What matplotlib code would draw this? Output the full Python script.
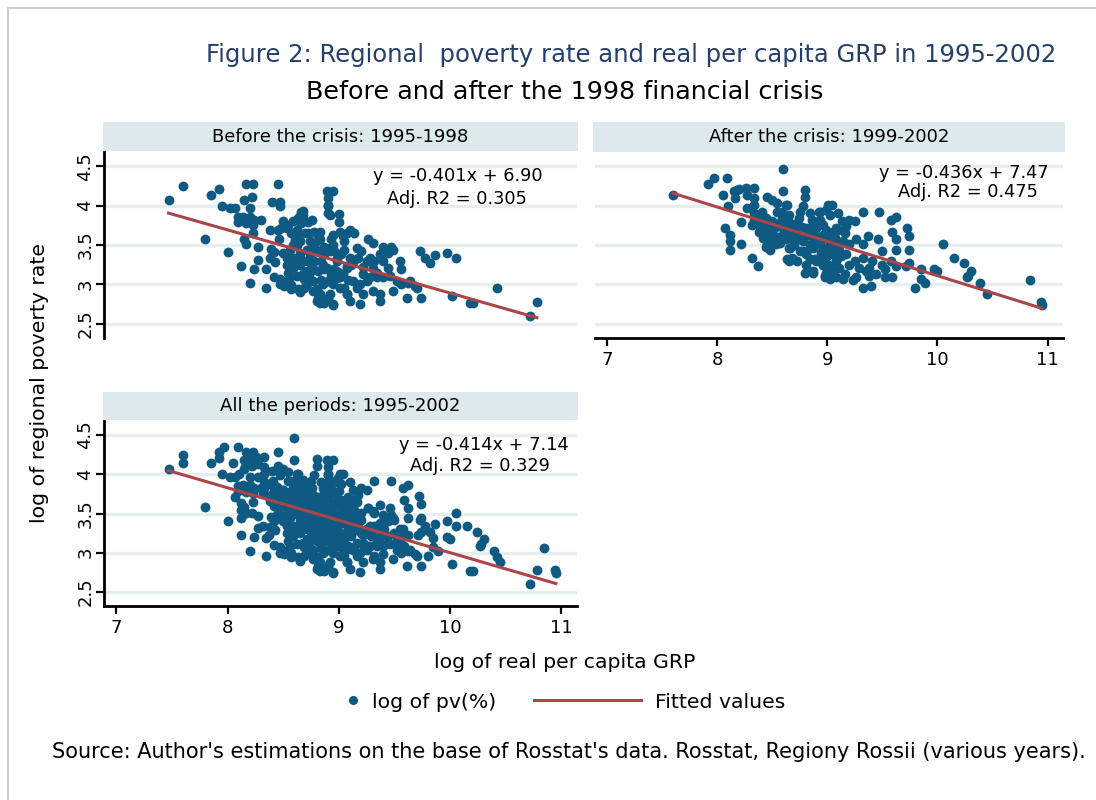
"""Regional poverty rate vs real per capita GRP, 1995-2002 (three-panel scatter)."""
import matplotlib
matplotlib.use("Agg")
import matplotlib.pyplot as plt  # noqa: E402
from matplotlib.lines import Line2D  # noqa: E402
from matplotlib.patches import Rectangle  # noqa: E402
import numpy as np  # noqa: E402

# --- data -----------------------------------------------------------------
before_x = [
    7.47, 7.60, 7.85, 7.92, 7.95, 8.02, 8.07, 7.80, 8.00, 8.12,
    8.20, 8.35, 8.17, 8.23, 8.45, 8.22, 8.15, 8.20, 8.40, 8.47,
    8.47, 8.09, 8.14, 8.20, 8.24, 8.30, 8.09, 8.17, 8.23, 8.23,
    8.15, 8.17, 8.27, 8.27, 8.24, 8.35, 8.42, 8.38, 8.45, 8.48,
    8.39, 8.42, 8.38, 8.43, 8.50, 8.54, 8.47, 8.54, 8.51, 8.47,
    8.57, 8.63, 8.65, 8.69, 8.81, 8.85, 8.83, 8.95, 8.89, 8.95,
    8.90, 8.90, 8.90, 9.00, 9.00, 8.66, 8.68, 8.65, 8.62, 8.72,
    8.76, 8.63, 8.70, 8.61, 8.83, 8.83, 8.95, 9.01, 9.07, 8.68,
    8.63, 8.66, 8.59, 8.53, 8.62, 8.57, 8.72, 8.78, 8.81, 8.74,
    8.65, 8.59, 8.56, 8.50, 8.53, 8.59, 8.65, 8.71, 8.77, 8.81,
    8.87, 8.87, 8.84, 8.78, 8.71, 8.65, 8.59, 8.54, 8.62, 8.68,
    8.75, 8.81, 8.87, 8.77, 8.71, 8.57, 8.80, 8.86, 8.90, 8.83,
    8.90, 8.80, 8.87, 8.90, 8.92, 9.04, 9.05, 9.05, 9.10, 9.14,
    8.92, 8.96, 9.16, 9.20, 9.17, 9.10, 9.11, 9.07, 9.31, 9.40,
    9.47, 9.37, 9.44, 9.49, 9.55, 9.56, 9.28, 9.32, 9.31, 9.22,
    9.28, 9.34, 9.40, 9.46, 9.52, 9.56, 9.62, 9.68, 9.61, 9.74,
    9.37, 8.95, 9.01, 9.07, 9.16, 9.22, 9.31, 9.37, 9.73, 9.77,
    9.82, 9.86, 9.97, 10.05, 8.98, 9.04, 8.98, 9.13, 9.19, 9.10,
    9.19, 9.25, 9.49, 9.26, 9.40, 9.44, 9.25, 10.42, 10.02, 10.18,
    10.21, 10.72, 10.78, 9.70, 9.64, 8.77, 8.92, 8.95, 9.01, 8.89,
    8.98, 9.07, 9.05, 9.07, 8.71, 8.65, 8.53, 8.80, 8.95, 8.92,
    8.74, 8.86, 8.93, 8.69, 8.84, 8.96, 9.02, 8.58, 8.76, 8.99,
    8.62, 8.79, 8.93, 9.13, 9.22, 9.34, 8.46, 8.56, 8.73, 9.08,
]
before_y = [
    4.07, 4.25, 4.14, 4.21, 4.00, 3.97, 3.97, 3.58, 3.41, 3.23,
    3.02, 2.96, 4.28, 4.28, 4.28, 4.11, 4.07, 3.97, 4.04, 4.04,
    3.99, 3.85, 3.86, 3.86, 3.82, 3.82, 3.79, 3.78, 3.76, 3.65,
    3.58, 3.51, 3.47, 3.31, 3.20, 3.19, 3.10, 3.69, 3.69, 3.71,
    3.45, 3.41, 3.33, 3.29, 3.80, 3.76, 3.07, 3.04, 2.98, 3.00,
    2.99, 2.94, 2.90, 2.96, 2.83, 2.81, 2.77, 2.74, 4.18, 4.18,
    4.09, 4.01, 3.90, 3.89, 3.79, 3.92, 3.93, 3.87, 3.82, 3.79,
    3.82, 3.65, 3.65, 3.56, 3.67, 3.57, 3.63, 3.67, 3.65, 3.88,
    3.84, 3.78, 3.80, 3.71, 3.69, 3.65, 3.65, 3.67, 3.63, 3.55,
    3.55, 3.50, 3.44, 3.40, 3.34, 3.34, 3.40, 3.44, 3.46, 3.42,
    3.48, 3.38, 3.30, 3.30, 3.30, 3.25, 3.21, 3.15, 3.11, 3.13,
    3.17, 3.17, 3.19, 3.04, 3.00, 2.94, 2.94, 3.00, 3.04, 2.88,
    2.83, 2.79, 2.77, 3.99, 3.88, 3.61, 3.55, 3.44, 3.69, 3.65,
    3.46, 3.42, 3.46, 3.42, 3.34, 3.34, 3.25, 3.21, 3.53, 3.48,
    3.48, 3.38, 3.40, 3.44, 3.30, 3.19, 3.34, 3.30, 3.21, 3.13,
    3.09, 3.09, 3.09, 3.11, 3.04, 3.00, 3.02, 2.98, 2.83, 2.83,
    2.79, 2.75, 2.96, 2.88, 2.96, 2.88, 2.92, 2.88, 3.42, 3.34,
    3.27, 3.37, 3.40, 3.34, 3.30, 3.13, 3.08, 3.04, 3.00, 2.79,
    2.75, 3.04, 2.92, 3.57, 3.30, 3.21, 3.30, 2.95, 2.85, 2.77,
    2.77, 2.60, 2.78, 2.96, 3.04, 2.92, 2.88, 3.00, 3.09, 3.21,
    3.34, 3.23, 2.96, 2.88, 3.17, 3.34, 3.25, 3.42, 3.50, 3.42,
    3.36, 3.24, 3.12, 3.07, 3.06, 3.20, 3.38, 3.27, 3.23, 3.16,
    3.50, 3.52, 3.58, 3.28, 3.22, 3.15, 3.58, 3.09, 3.09, 3.05,
]

after_x = [
    7.60, 7.92, 7.97, 8.09, 8.05, 8.10, 8.16, 8.18, 8.20, 8.22,
    8.07, 8.12, 8.12, 8.12, 8.22, 8.32, 8.37, 8.26, 8.33, 8.27,
    8.33, 8.33, 8.27, 8.33, 8.33, 8.32, 8.60, 8.60, 8.45, 8.50,
    8.54, 8.41, 8.42, 8.43, 8.42, 8.45, 8.48, 8.62, 8.59, 8.63,
    8.66, 8.69, 8.63, 8.68, 8.80, 8.80, 8.78, 8.84, 8.86, 8.81,
    8.86, 8.78, 8.75, 8.81, 8.87, 8.93, 8.87, 8.98, 8.99, 8.93,
    9.01, 9.02, 9.10, 8.96, 9.05, 9.10, 9.02, 9.08, 8.96, 8.36,
    8.44, 8.39, 8.45, 8.50, 8.48, 8.44, 8.53, 8.57, 8.54, 8.59,
    8.63, 8.60, 8.65, 8.56, 8.60, 8.66, 8.60, 8.68, 8.72, 8.75,
    8.92, 8.99, 8.65, 8.65, 8.69, 8.84, 8.90, 8.93, 8.99, 8.98,
    8.84, 8.89, 8.93, 8.96, 9.01, 8.75, 8.81, 8.69, 8.72, 8.83,
    8.90, 8.96, 8.99, 8.87, 8.93, 9.04, 9.13, 9.17, 9.20, 9.25,
    9.16, 9.14, 9.20, 9.08, 9.07, 9.11, 9.17, 9.05, 9.08, 9.11,
    9.16, 9.20, 9.25, 9.26, 9.32, 9.32, 9.29, 9.35, 9.38, 9.41,
    9.38, 9.32, 9.40, 9.32, 9.47, 9.37, 9.46, 9.50, 9.58, 9.62,
    9.59, 9.62, 9.50, 9.58, 9.44, 9.52, 9.72, 9.74, 9.62, 9.74,
    9.74, 9.71, 9.62, 9.59, 9.52, 9.80, 9.85, 9.85, 9.89, 9.97,
    10.00, 10.05, 10.15, 10.24, 10.30, 10.28, 10.27, 10.39, 10.45, 10.84,
    10.94, 10.95, 9.14, 9.23, 9.26, 8.72, 8.81, 8.90, 8.96, 9.02,
    9.08, 8.87, 8.98, 9.05, 9.08, 8.66, 8.78, 8.96, 9.05, 9.10,
    8.84, 8.72, 8.15, 8.38, 8.50, 8.55, 8.70, 8.80, 9.02, 8.92,
    8.52, 8.58, 8.74, 8.88, 9.00, 9.12, 8.47, 8.62, 8.77, 8.94,
]
after_y = [
    4.14, 4.28, 4.35, 4.35, 4.14, 4.00, 4.09, 4.20, 4.21, 3.79,
    3.71, 3.63, 3.55, 3.44, 3.51, 3.34, 3.23, 4.22, 4.22, 4.13,
    4.09, 4.01, 3.97, 3.90, 3.82, 3.76, 4.46, 4.18, 4.11, 4.07,
    4.03, 3.92, 3.80, 3.69, 3.59, 3.51, 3.44, 4.01, 3.92, 3.84,
    3.78, 3.71, 3.32, 3.34, 4.20, 4.11, 3.99, 3.90, 3.82, 3.71,
    3.63, 3.55, 3.42, 3.38, 3.46, 3.34, 3.17, 3.11, 3.15, 3.92,
    4.01, 3.88, 3.90, 3.63, 3.67, 3.69, 3.51, 3.42, 3.42, 3.88,
    3.84, 3.74, 3.76, 3.80, 3.59, 3.48, 3.51, 3.53, 3.92, 3.88,
    4.01, 3.86, 3.88, 3.74, 3.71, 3.67, 3.63, 3.76, 3.78, 3.92,
    3.92, 3.95, 3.46, 3.30, 3.32, 3.46, 3.55, 3.51, 3.59, 3.42,
    3.32, 3.32, 3.30, 3.25, 3.25, 3.57, 3.61, 3.57, 3.67, 3.71,
    3.71, 3.76, 3.69, 3.80, 3.82, 4.01, 3.80, 3.74, 3.82, 3.80,
    3.65, 3.55, 3.51, 3.71, 3.59, 3.44, 3.38, 3.38, 3.30, 3.21,
    3.13, 3.25, 3.30, 3.57, 3.51, 3.34, 3.21, 3.17, 3.21, 3.30,
    3.11, 2.96, 2.98, 3.92, 3.92, 3.61, 3.57, 3.42, 3.82, 3.86,
    3.67, 3.44, 3.25, 3.30, 3.13, 3.09, 3.72, 3.62, 3.57, 3.44,
    3.27, 3.23, 3.23, 3.09, 3.19, 2.96, 3.19, 3.07, 3.02, 3.20,
    3.17, 3.51, 3.34, 3.27, 3.17, 3.11, 3.09, 3.02, 2.88, 3.06,
    2.78, 2.74, 3.07, 3.05, 3.09, 3.30, 3.25, 3.30, 3.25, 3.21,
    3.30, 3.15, 3.09, 3.15, 3.09, 3.46, 3.42, 3.46, 3.42, 3.50,
    3.50, 3.59, 4.18, 3.66, 3.66, 3.60, 3.50, 3.15, 3.07, 3.60,
    3.72, 3.80, 3.84, 3.55, 3.36, 3.36, 3.64, 3.58, 3.73, 3.40,
]

panel_titles = ["Before the crisis: 1995-1998", "After the crisis: 1999-2002",
                "All the periods: 1995-2002"]
slopes = [-0.401, -0.436, -0.414]
intercepts = [6.90, 7.47, 7.14]
adj_r2 = [0.305, 0.475, 0.329]

y_ticks = [2.5, 3, 3.5, 4, 4.5]
y_tick_labels = ["2.5", "3", "3.5", "4", "4.5"]
x_ticks = [7, 8, 9, 10, 11]
x_tick_labels = ["7", "8", "9", "10", "11"]

# --- style ----------------------------------------------------------------
DOT = "#0f5a82"
FIT = "#ac4448"
GRID = "#e6eeee"
STRIP = "#dce9ed"
TITLE = "#243f6b"
W, H = 1096, 800

plt.rcParams["font.family"] = ["DejaVu Sans"]


def box(l, t, r, b):
    """Pixel box (left, top, right, bottom) -> figure fraction rect."""
    return [l / W, 1 - b / H, (r - l) / W, (b - t) / H]


def at(x, y):
    return x / W, 1 - y / H


fig = plt.figure(figsize=(W / 100, H / 100), dpi=100)
fig.patch.set_facecolor("white")
fig.add_artist(Rectangle(at(8, 900), 1.2, (900 - 8) / H, transform=fig.transFigure,
                         fill=False, edgecolor="#c4c4c4", lw=1.2))

axes = [fig.add_axes(box(104, 152, 577, 338)),
        fig.add_axes(box(595, 152, 1063, 338)),
        fig.add_axes(box(104, 421, 577, 606))]
strips = [(103, 122, 578, 151), (593, 122, 1065, 152), (103, 392, 578, 420)]
eq_pos = [(458, 176, 457, 199), (964, 173, 968, 192), (484, 445, 480, 466)]

data = [(np.array(before_x), np.array(before_y)),
        (np.array(after_x), np.array(after_y)),
        (np.array(before_x + after_x), np.array(before_y + after_y))]

for i, ax in enumerate(axes):
    x, y = data[i]
    ax.scatter(x, y, s=50, color=DOT, linewidths=0, zorder=3)
    xs = np.array([x.min(), x.max()])
    ax.plot(xs, intercepts[i] + slopes[i] * xs, color=FIT, lw=2.2, zorder=4)

    ax.set_xlim(6.89, 11.14)
    ax.set_ylim(2.32, 4.68)
    ax.set_yticks(y_ticks)
    ax.set_yticklabels(y_tick_labels)
    ax.set_xticks(x_ticks)
    ax.set_xticklabels(x_tick_labels)
    ax.grid(axis="y", color=GRID, lw=2.4)
    ax.grid(axis="x", visible=False)
    ax.set_axisbelow(True)
    for side in ["top", "right"]:
        ax.spines[side].set_visible(False)
    for side in ["left", "bottom"]:
        ax.spines[side].set_linewidth(2.0)
    ax.tick_params(axis="both", labelsize=13, width=1.6, length=6, color="black")
    ax.tick_params(axis="y", labelrotation=90, pad=1)
    for lab in ax.get_yticklabels():
        lab.set_va("center")
    if i == 0:
        ax.spines["bottom"].set_visible(False)
        ax.tick_params(axis="x", bottom=False, labelbottom=False)
    if i == 1:
        ax.spines["left"].set_visible(False)
        ax.tick_params(axis="y", left=False, labelleft=False)

    l, t, r, b = strips[i]
    sax = fig.add_axes(box(l, t, r, b))
    sax.set_facecolor(STRIP)
    sax.set_xticks([])
    sax.set_yticks([])
    for sp in sax.spines.values():
        sp.set_visible(False)
    sax.text(0.5, 0.5, panel_titles[i], ha="center", va="center", fontsize=13,
             transform=sax.transAxes)

    ex, ey, rx, ry = eq_pos[i]
    sign = "+" if intercepts[i] >= 0 else "-"
    fig.text(*at(ex, ey), f"y = {slopes[i]:.3f}x {sign} {abs(intercepts[i]):.2f}",
             ha="center", va="center", fontsize=12.8)
    fig.text(*at(rx, ry), f"Adj. R2 = {adj_r2[i]:.3f}",
             ha="center", va="center", fontsize=12.8)

fig.text(*at(631, 55), "Figure 2: Regional  poverty rate and real per capita GRP in 1995-2002",
         ha="center", va="center", fontsize=17.5, color=TITLE)
fig.text(*at(565, 92), "Before and after the 1998 financial crisis",
         ha="center", va="center", fontsize=18.3, color="black")
fig.text(*at(40, 383), "log of regional poverty rate", rotation=90,
         ha="center", va="center", fontsize=14.7)
fig.text(*at(565, 663), "log of real per capita GRP", ha="center", va="center",
         fontsize=14.7)
fig.text(*at(569, 752),
         "Source: Author's estimations on the base of Rosstat's data. "
         "Rosstat, Regiony Rossii (various years).",
         ha="center", va="center", fontsize=15)

dot_handle = Line2D([], [], marker="o", ls="none", color=DOT, markersize=5.5)
fit_handle = Line2D([], [], color=FIT, lw=2.2)
fig.legend([dot_handle], ["log of pv(%)"], loc="center left",
           bbox_to_anchor=at(326, 702), frameon=False, fontsize=14.7,
           handlelength=0.8, handletextpad=0.55)
fig.legend([fit_handle], ["Fitted values"], loc="center left",
           bbox_to_anchor=at(516, 702), frameon=False, fontsize=14.7,
           handlelength=5.2, handletextpad=0.7)

fig.savefig("out.png", dpi=100)
